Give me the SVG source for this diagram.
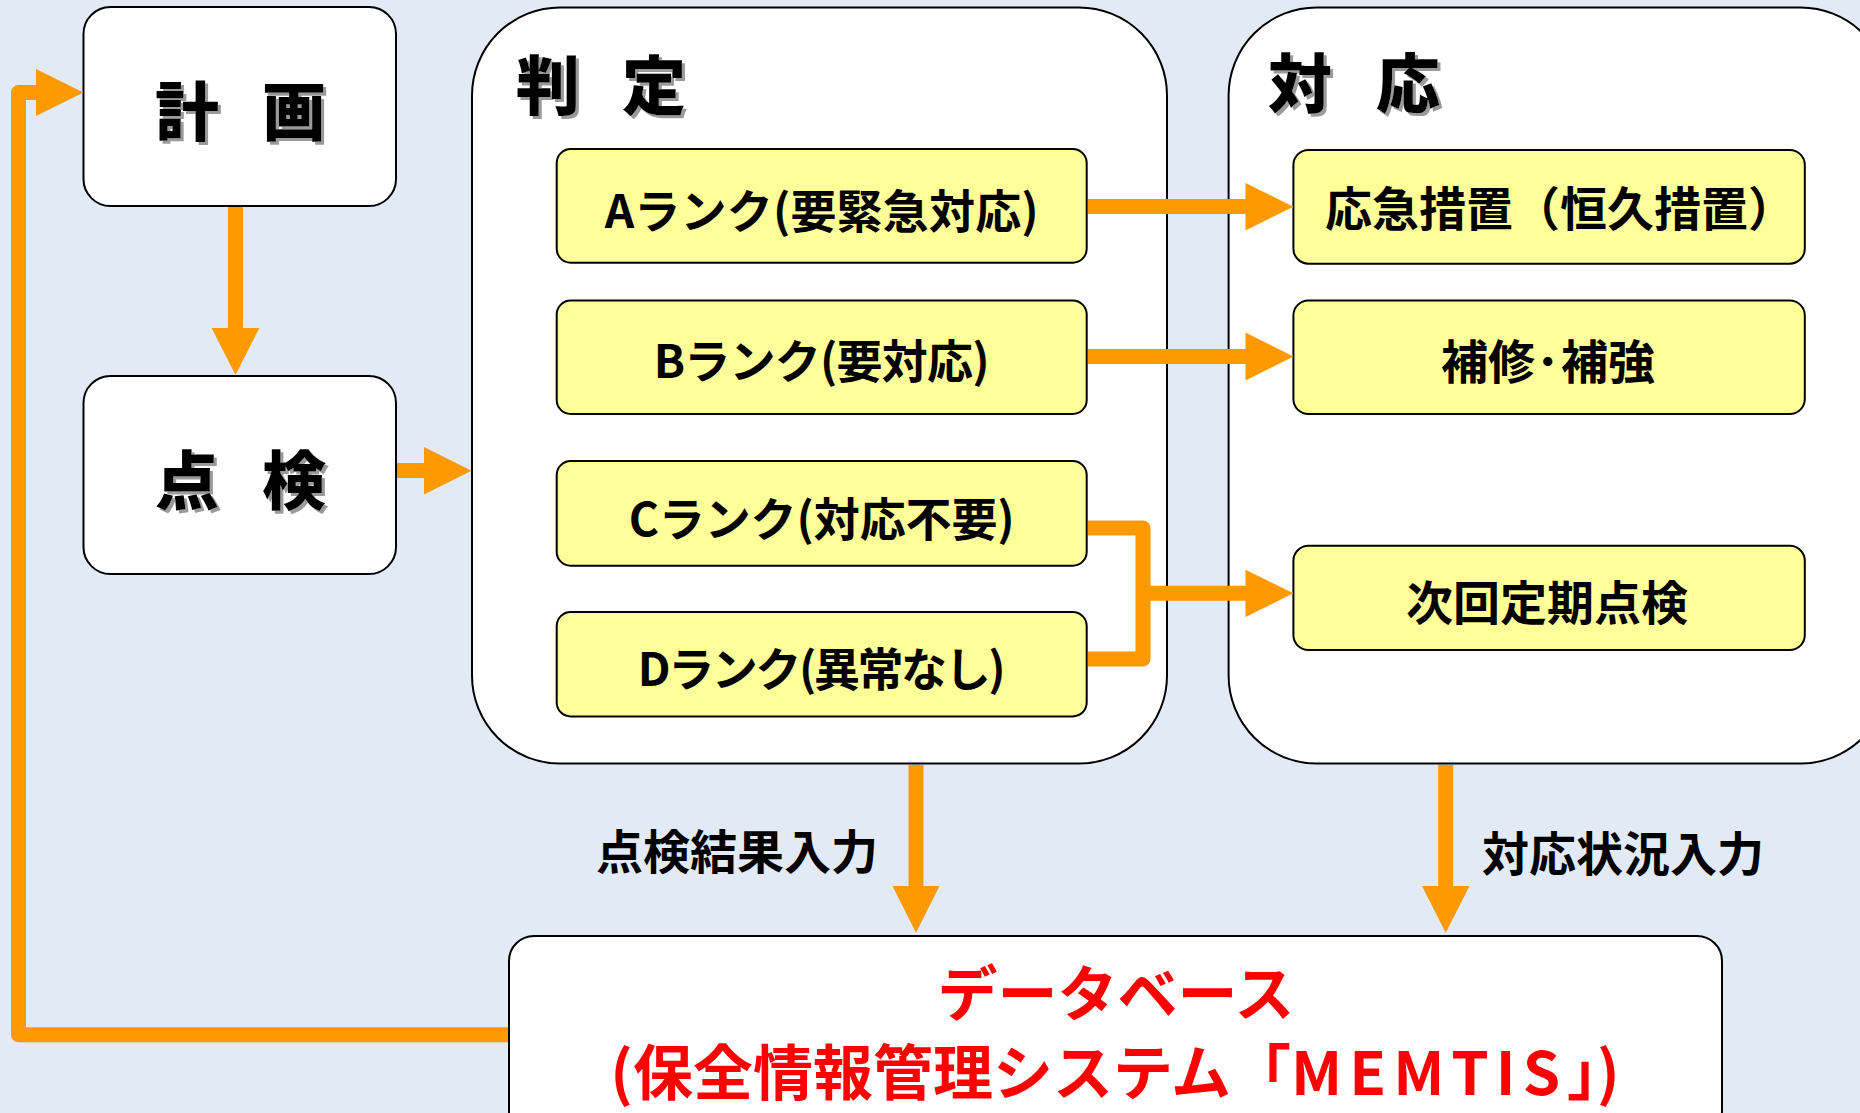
<svg xmlns="http://www.w3.org/2000/svg" width="1860" height="1113" viewBox="0 0 1860 1113">
<defs>
<filter id="shadow" x="-10%" y="-10%" width="130%" height="130%">
<feDropShadow dx="3" dy="3" stdDeviation="0.6" flood-color="#9a9a9a" flood-opacity="1"/>
</filter>
<style>
.box{fill:#ffffff;stroke:#000;stroke-width:2}
.rank{fill:#ffff99;stroke:#000;stroke-width:2}
.conn{stroke:#ff9900;stroke-width:15;fill:none;stroke-linejoin:round}
.head{fill:#ff9900}
.jp{font-family:"Noto Sans CJK JP","Noto Sans CJK SC",sans-serif;fill:#000}
.title{font-size:64px;font-weight:900;filter:url(#shadow)}
.rt{font-size:46px;font-weight:700}
.rr{font-size:47px;font-weight:700}
.lbl{font-size:47px;font-weight:700}
.db{font-size:60px;font-weight:700;fill:#ff0000}
</style>
</defs>
<rect x="0" y="0" width="1860" height="1113" fill="#e1eaf5"/>

<g id="plan">
<rect class="box" x="83.5" y="7" width="312.5" height="199" rx="27" ry="27"/>
<text class="jp title" x="155" y="135">計 <tspan x="262">画</tspan></text>
</g>

<g id="inspection">
<rect class="box" x="83.5" y="376" width="312.5" height="198" rx="27" ry="27"/>
<text class="jp title" x="155" y="504">点 <tspan x="262">検</tspan></text>
</g>

<g id="judgement">
<rect class="box" x="472" y="7.5" width="695" height="756" rx="88" ry="88"/>
<text class="jp title" x="516" y="109">判 <tspan x="622">定</tspan></text>
</g>

<g id="response">
<rect class="box" x="1228.6" y="7.5" width="660" height="756" rx="88" ry="88"/>
<text class="jp title" x="1268" y="107">対 <tspan x="1376">応</tspan></text>
</g>

<g id="rankA">
<rect class="rank" x="556.7" y="149" width="530" height="113.7" rx="14" ry="14"/>
<text class="jp rt" x="821.7" y="228" text-anchor="middle" textLength="434" lengthAdjust="spacing">Aランク(要緊急対応)</text>
</g>
<g id="rankB">
<rect class="rank" x="556.7" y="300.5" width="530" height="113.5" rx="14" ry="14"/>
<text class="jp rt" x="821.7" y="377.5" text-anchor="middle" textLength="336" lengthAdjust="spacing">Bランク(要対応)</text>
</g>
<g id="rankC">
<rect class="rank" x="556.7" y="461" width="530" height="104.7" rx="14" ry="14"/>
<text class="jp rt" x="821.7" y="536" text-anchor="middle" textLength="386" lengthAdjust="spacing">Cランク(対応不要)</text>
</g>
<g id="rankD">
<rect class="rank" x="556.7" y="612" width="530" height="104.4" rx="14" ry="14"/>
<text class="jp rt" x="821.7" y="686" text-anchor="middle" textLength="368" lengthAdjust="spacing">Dランク(異常なし)</text>
</g>

<g id="emergency">
<rect class="rank" x="1293.4" y="150" width="511.4" height="113.7" rx="15" ry="15"/>
<text class="jp rr" x="1325" y="226">応急措置（恒久措置）</text>
</g>
<g id="repair">
<rect class="rank" x="1293.4" y="300.5" width="511.4" height="113.5" rx="15" ry="15"/>
<text class="jp rr" x="1441 1488 1536 1561 1608" y="378.5">補修･補強</text>
</g>
<g id="next">
<rect class="rank" x="1293.4" y="545.8" width="511.4" height="104.2" rx="15" ry="15"/>
<text class="jp rr" x="1406" y="620">次回定期点検</text>
</g>

<g id="labels">
<text class="jp lbl" x="596" y="868.5">点検結果入力</text>
<text class="jp lbl" x="1482" y="870.5">対応状況入力</text>
</g>

<g id="database">
<rect class="box" x="509" y="936" width="1213" height="200" rx="25" ry="25"/>
<text class="jp db" x="1116" y="1016" text-anchor="middle">データベース</text>
<text class="jp db" x="1115" y="1094.5" text-anchor="middle">(保全情報管理システム「<tspan letter-spacing="7">MEMTIS</tspan>」)</text>
</g>

<g id="connectors">
<line class="conn" x1="235.5" y1="207" x2="235.5" y2="330"/>
<polygon class="head" points="211.7,328 259.3,328 235.5,375"/>
<line class="conn" x1="397" y1="470.5" x2="426" y2="470.5"/>
<polygon class="head" points="424,447 424,494.5 471.5,470.7"/>
<line class="conn" x1="1088" y1="206.5" x2="1248" y2="206.5"/>
<polygon class="head" points="1245.5,183 1245.5,230.5 1293.4,206.7"/>
<line class="conn" x1="1088" y1="356.5" x2="1248" y2="356.5"/>
<polygon class="head" points="1245.5,332.5 1245.5,380.5 1293.4,356.5"/>
<path class="conn" d="M1088,528 H1143 V659 H1088"/>
<line class="conn" x1="1143" y1="593.3" x2="1248" y2="593.3"/>
<polygon class="head" points="1245.5,569.7 1245.5,617 1293.4,593.3"/>
<line class="conn" x1="916" y1="765" x2="916" y2="888"/>
<polygon class="head" points="892.5,886 939.5,886 916,932.7"/>
<line class="conn" x1="1445.7" y1="765" x2="1445.7" y2="888"/>
<polygon class="head" points="1422,886 1469.5,886 1445.7,932.7"/>
<path class="conn" d="M508,1034.7 H18.5 V92.6 H38"/>
<polygon class="head" points="36,69 36,116 83.5,92.5"/>
</g>
</svg>
